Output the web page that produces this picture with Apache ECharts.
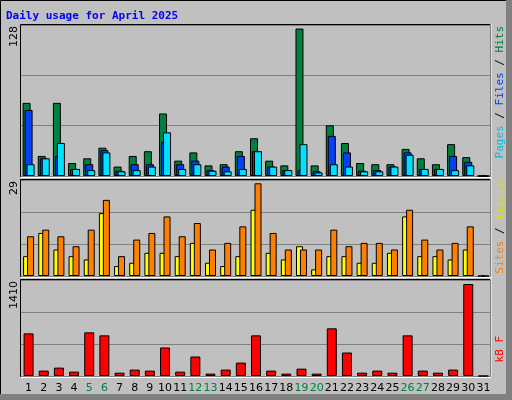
<!DOCTYPE html>
<html>
<head>
<meta charset="utf-8">
<script src="https://cdn.jsdelivr.net/npm/echarts@6/dist/echarts.min.js"></script>
<style>
  body { margin: 0; }
  #main { width: 512px; height: 400px; }
</style>
</head>
<body>
<div id="main"></div>
<script>
const days = ['1','2','3','4','5','6','7','8','9','10','11','12','13','14','15','16','17','18','19','20','21','22','23','24','25','26','27','28','29','30','31']
const weekend = ['5','6','12','13','19','20','26','27']

const hits = [62,17,62,11,15,24,8,17,21,53,13,20,9,10,21,32,13,9,125,9,43,28,11,10,10,23,15,10,27,16,0]
const files = [56,15,17,6,10,22,4.5,10,10,29,10,13,5,8,17,21,8,5,5,4,34,20,4.5,5,8,20,6,6,17,12,0]
const pages = [10,15,28,6,5,20,4,5,8,37,6,10,4.5,4,6,21,8,5,27,3,10,8,4,4,8,18,6,6,5,9,0]

const sites = [6,13,8,6,5,19,3,4,7,7,6,10,4,3,6,20,7,5,9,2,6,6,4,4,7,18,6,6,5,8,0]
const visits = [12,14,12,9,14,23,6,11,13,18,12,16,8,10,15,28,13,8,8,8,14,9,10,10,8,20,11,8,10,15,0]

const kbytes = [626,79,123,64,641,597,49,94,79,419,64,286,35,94,197,597,79,35,108,35,700,345,49,79,49,597,79,49,94,1351,0]

const maxTop = 128, maxMid = 29, maxBot = 1410

const chart = echarts.init(document.getElementById('main'))

const grids = [
  { left: 21, right: 21, top: 25, height: 151 },
  { left: 21, right: 21, top: 180, height: 96 },
  { left: 21, right: 21, top: 280, height: 96 }
]

function xAxis(i, show) {
  return {
    type: 'category', gridIndex: i, data: days,
    axisLine: { show: false }, axisTick: { show: false },
    axisLabel: {
      show: show, interval: 0, margin: 7, fontFamily: 'DejaVu Sans', fontSize: 11,
      color: function (v) { return weekend.indexOf(v) >= 0 ? '#008040' : '#000' }
    }
  }
}
function yAxis(i, max) {
  return {
    type: 'value', gridIndex: i, min: 0, max: max, interval: max / 3,
    axisLabel: { show: false },
    splitLine: { lineStyle: { color: '#808080', width: 1 } }
  }
}
function bars(name, data, color, i, width, gap) {
  return {
    name: name, type: 'bar', data: data, xAxisIndex: i, yAxisIndex: i,
    barWidth: width, barGap: gap, animation: false,
    itemStyle: { color: color, borderColor: '#000', borderWidth: 1 }
  }
}
function vtext(x, y, parts) {
  return {
    type: 'text', x: x, y: y, rotation: Math.PI / 2,
    style: {
      text: parts.map(p => '{' + p[1] + '|' + p[0] + '}').join(''),
      rich: Object.fromEntries(parts.map(p => [p[1], { fill: p[2] }])),
      font: '11px "DejaVu Sans Mono"', align: 'right', verticalAlign: 'middle'
    }
  }
}

chart.setOption({
  backgroundColor: '#c0c0c0',
  grid: grids,
  xAxis: [xAxis(0, false), xAxis(1, false), xAxis(2, true)],
  yAxis: [yAxis(0, maxTop), yAxis(1, maxMid), yAxis(2, maxBot)],
  series: [
    bars('Hits', hits, '#008040', 0, 8, '-75%'),
    bars('Files', files, '#0040ff', 0, 8, '-75%'),
    bars('Pages', pages, '#00e0ff', 0, 8, '-75%'),
    bars('Sites', sites, '#ffff00', 1, 7, '-43%'),
    bars('Visits', visits, '#ff8000', 1, 7, '-43%'),
    bars('kB F', kbytes, '#ff0000', 2, 10, '0%')
  ],
  graphic: [
    { type: 'rect', shape: { x: 0.5, y: 0.5, width: 510, height: 398 }, style: { fill: null, stroke: '#000' } },
    { type: 'rect', shape: { x: 506, y: 0, width: 6, height: 400 }, style: { fill: '#808080' } },
    { type: 'rect', shape: { x: 0, y: 394, width: 512, height: 6 }, style: { fill: '#808080' } },
    { type: 'rect', shape: { x: 20.5, y: 24.5, width: 470, height: 152 }, style: { fill: null, stroke: '#000' } },
    { type: 'rect', shape: { x: 20.5, y: 179.5, width: 470, height: 97 }, style: { fill: null, stroke: '#000' } },
    { type: 'rect', shape: { x: 20.5, y: 279.5, width: 470, height: 97 }, style: { fill: null, stroke: '#000' } },
    { type: 'line', shape: { x1: 491, y1: 24, x2: 491, y2: 377 }, style: { stroke: '#fff' } },
    { type: 'line', shape: { x1: 21, y1: 177.5, x2: 491, y2: 177.5 }, style: { stroke: '#fff' } },
    { type: 'line', shape: { x1: 21, y1: 277.5, x2: 491, y2: 277.5 }, style: { stroke: '#fff' } },
    { type: 'line', shape: { x1: 21, y1: 377.5, x2: 491, y2: 377.5 }, style: { stroke: '#fff' } },
    {
      type: 'text', x: 6, y: 16,
      style: { text: 'Daily usage for April 2025', font: 'bold 11px "DejaVu Sans Mono"', fill: '#0000ff', verticalAlign: 'middle' }
    },
    { type: 'text', x: 14, y: 26, rotation: Math.PI / 2, style: { text: String(maxTop), font: '11px "DejaVu Sans"', fill: '#000', align: 'right', verticalAlign: 'middle' } },
    { type: 'text', x: 14, y: 181, rotation: Math.PI / 2, style: { text: String(maxMid), font: '11px "DejaVu Sans"', fill: '#000', align: 'right', verticalAlign: 'middle' } },
    { type: 'text', x: 14, y: 281, rotation: Math.PI / 2, style: { text: String(maxBot), font: '11px "DejaVu Sans"', fill: '#000', align: 'right', verticalAlign: 'middle' } },
    vtext(500, 26, [['Pages', 'p', '#00c0e0'], [' / ', 's1', '#000'], ['Files', 'f', '#0040ff'], [' / ', 's2', '#000'], ['Hits', 'h', '#008040']]),
    vtext(500, 181, [['Sites', 's', '#ff8000'], [' / ', 'sl', '#000'], ['Visits', 'v', '#e0e000']]),
    vtext(500, 336, [['kB F', 'k', '#ff0000']])
  ]
})
</script>
</body>
</html>
